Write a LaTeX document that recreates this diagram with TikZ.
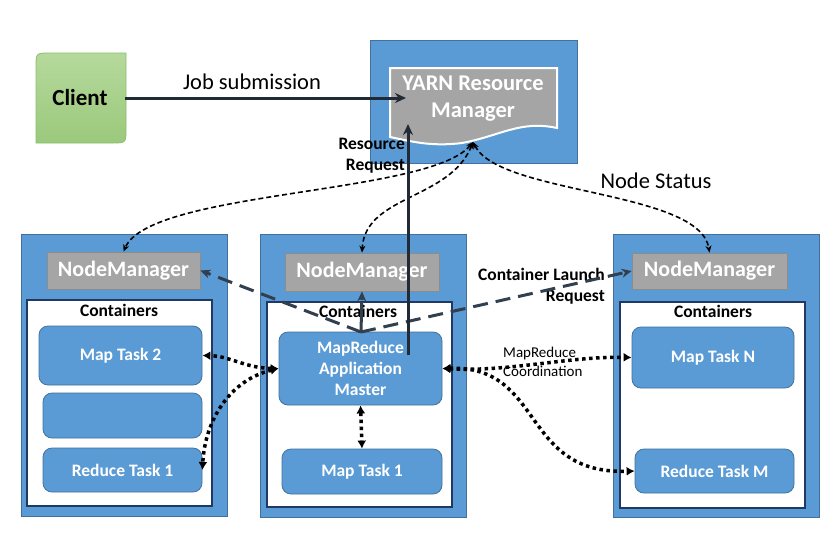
\documentclass[tikz,border=0pt]{standalone}
\usepackage{fontspec}
\setmainfont{Carlito}
\usetikzlibrary{arrows.meta}
\definecolor{boxblue}{HTML}{5B9BD5}
\definecolor{boxedge}{HTML}{41719C}
\definecolor{contedge}{HTML}{203864}
\definecolor{nmgray}{HTML}{A5A5A5}
\definecolor{nmedge}{HTML}{8C8C8C}
\definecolor{arrowdark}{HTML}{222A35}
\definecolor{dashdark}{HTML}{323F4F}
\definecolor{greentop}{HTML}{B5D99C}
\definecolor{greenbot}{HTML}{9BC97C}
\definecolor{greenedge}{HTML}{8CBF6C}
\begin{document}
\begin{tikzpicture}[x=1pt,y=-1pt,
  outerbox/.style={draw=boxedge,fill=boxblue,line width=0.8pt,inner sep=0pt},
  nmbox/.style={draw=nmedge,fill=nmgray,line width=0.8pt,inner sep=0pt,text=white,
     font=\fontsize{22}{26}\selectfont\bfseries},
  contbox/.style={draw=contedge,fill=white,line width=2.5pt,inner sep=0pt},
  contlabel/.style={font=\fontsize{17.5}{20}\selectfont\bfseries,inner sep=0pt},
  taskbox/.style={draw=boxedge,fill=boxblue,line width=0.8pt,rounded corners=9pt,inner sep=0pt,
     text=white,font=\fontsize{17.5}{21}\selectfont\bfseries,align=center},
  solidarrow/.style={draw=arrowdark,line width=3pt,-{Stealth[length=11pt,width=10pt]}},
  statusarrow/.style={draw=black,line width=1.6pt,dash pattern=on 5pt off 3pt,
     {Stealth[length=7pt,width=6pt]}-{Stealth[length=7pt,width=6pt]}},
  launcharrow/.style={draw=dashdark,line width=3pt,dash pattern=on 15pt off 8pt,
     -{Stealth[length=10pt,width=9pt]}},
  coordarrow/.style={draw=black,line width=3.5pt,dash pattern=on 3.5pt off 3.5pt,
     {Latex[length=8pt,width=9pt]}-{Latex[length=8pt,width=9pt]}},
  plainlabel/.style={font=\fontsize{22.5}{26}\selectfont,inner sep=0pt},
  boldlabel/.style={font=\fontsize{17.5}{21}\selectfont\bfseries,inner sep=0pt},
]
\useasboundingbox (0,0) rectangle (840,542);
\fill[white] (0,0) rectangle (840,542);

% Client
\path[top color=greentop,bottom color=greenbot,draw=greenedge,line width=0.8pt]
  (36,143) -- (36,67) .. controls (36,53) .. (50,53) -- (126,53) -- (126,129)
  .. controls (126,143) .. (112,143) -- cycle;
\node[inner sep=0pt,minimum width=90pt,minimum height=90pt,
      font=\fontsize{23}{27}\selectfont\bfseries] (client) at (80,98) {Client};

% YARN Resource Manager
\node[outerbox,minimum width=207pt,minimum height=123pt] (rmbox) at (473.5,101.5) {};
\path[fill=nmgray,draw=white,line width=2pt]
  (390,68) -- (557,68) -- (557,128) .. controls (520,120) and (500,136) .. (462,143)
  .. controls (430,147) and (410,141) .. (390,137) -- cycle;
\node[inner sep=0pt,text=white,align=center,font=\fontsize{22.5}{27}\selectfont\bfseries]
  (rm) at (473,99) {YARN Resource\\Manager};
\coordinate (jobtip) at (406,98);
\coordinate (rrtip) at (408,124);
\coordinate (rrstart) at (408,355);
\coordinate (rmport) at (473,142);

% Left node
\node[outerbox,minimum width=206pt,minimum height=282pt] (nodeL) at (124,375) {};
\node[nmbox,minimum width=153pt,minimum height=37pt] (nmL) at (123.5,270.5) {NodeManager};
\node[contbox,minimum width=185pt,minimum height=206pt] (contL) at (119.5,403) {};
\node[contlabel] (contLlab) at (119,310) {Containers};
\node[taskbox,minimum width=163pt,minimum height=59pt] (mt2) at (120.5,355.5) {Map Task 2};
\node[taskbox,minimum width=159pt,minimum height=45pt] (empty) at (122.5,415.5) {};
\node[taskbox,minimum width=159pt,minimum height=44pt] (rt1) at (122.5,470) {Reduce Task 1};

% Middle node
\node[outerbox,minimum width=206pt,minimum height=283pt] (nodeM) at (363,375.5) {};
\node[nmbox,minimum width=154pt,minimum height=38pt] (nmM) at (362,272) {NodeManager};
\node[contbox,minimum width=185pt,minimum height=205pt] (contM) at (359.5,404.5) {};
\node[contlabel] (contMlab) at (358,311) {Containers};
\node[taskbox,minimum width=163pt,minimum height=73pt] (am) at (360.5,368.5)
  {MapReduce\\Application\\Master};
\node[taskbox,minimum width=160pt,minimum height=45pt] (mt1) at (362,471.5) {Map Task 1};

% Right node
\node[outerbox,minimum width=206pt,minimum height=283pt] (nodeR) at (716,375.5) {};
\node[nmbox,minimum width=155pt,minimum height=36pt] (nmR) at (709.5,271) {NodeManager};
\node[contbox,minimum width=185pt,minimum height=206pt] (contR) at (712.5,405) {};
\node[contlabel] (contRlab) at (713,311) {Containers};
\node[taskbox,minimum width=162pt,minimum height=61pt] (mtn) at (713,357.5) {Map Task N};
\node[taskbox,minimum width=159pt,minimum height=44pt] (rtm) at (714.5,471) {Reduce Task M};

% Labels
\node[plainlabel] (joblab) at (252,82) {Job submission};
\node[plainlabel] (statuslab) at (656,181) {Node Status};
\node[boldlabel,align=right,anchor=east] (rrlab) at (405,156) {Resource\\Request};
\node[boldlabel,align=right,anchor=east] (cllab) at (605,286) {Container Launch\\Request};
\node[inner sep=0pt,align=left,anchor=west,font=\fontsize{15}{19}\selectfont] (coordlab)
  at (503,362) {MapReduce\\Coordination};

% Node status (dashed, double-headed)
\draw[statusarrow] (rmport) .. controls (430,195) and (150,190) .. (nmL.north);
\draw[statusarrow] (rmport) .. controls (450,200) and (365,195) .. (nmM.north);
\draw[statusarrow] (rmport) .. controls (500,195) and (700,190) .. (nmR.north);

% Container launch requests
\coordinate (amtop) at (361,332);
\draw[launcharrow] (amtop) -- (nmL.east);
\draw[launcharrow] (amtop) -- (nmR.west);
\draw[launcharrow,dash pattern=on 30pt off 2pt] (amtop) -- (nmM.south);

% Job submission and resource request
\draw[solidarrow] (client.east) -- (jobtip);
\draw[solidarrow] (rrstart) -- (rrtip);

% MapReduce coordination (dotted)
\draw[coordarrow] (am.west) .. controls (245,368) and (230,356) .. (mt2.east);
\draw[coordarrow] (am.west) .. controls (230,380) and (205,420) .. (rt1.east);
\draw[coordarrow] (am.south) -- (mt1.north);
\draw[coordarrow] (am.east) .. controls (510,372) and (570,356) .. (mtn.west);
\draw[coordarrow] (am.east) .. controls (545,365) and (520,475) .. (rtm.west);
\end{tikzpicture}
\end{document}
